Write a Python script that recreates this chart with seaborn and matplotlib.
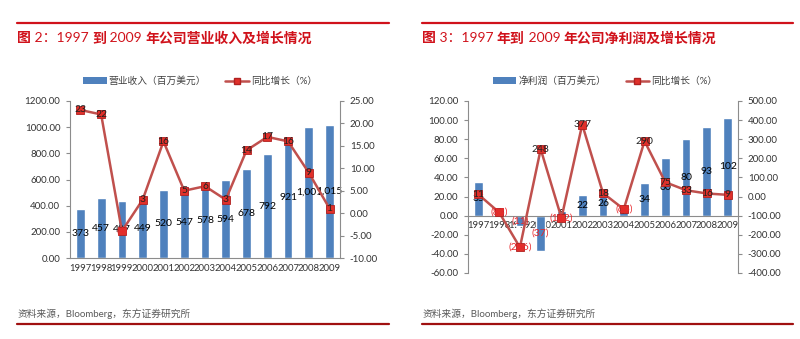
import numpy as np
import pandas as pd
import matplotlib
matplotlib.use("Agg")
import matplotlib.pyplot as plt
import seaborn as sns
from matplotlib.lines import Line2D
from matplotlib.patches import Patch

# ---------------- data ----------------
years = ['1997', '1998', '1999', '2000', '2001', '2002', '2003',
         '2004', '2005', '2006', '2007', '2008', '2009']
revenue = [373, 457, 437, 449, 520, 547, 578, 594, 678, 792, 921, 1001, 1015]
revenue_growth = [23, 22, -4, 3, 16, 5, 6, 3, 14, 17, 16, 9, 1]
profit = [35, 6.4, -10.6, -36.9, 4.6, 21.9, 25.6, 8.7, 34, 60, 80, 93, 102]
profit_growth = [11, -83, -266, 248, -112, 377, 18, -66, 290, 75, 33, 16, 9]

title1_parts = [("图", True), (" 2：1997 ", False), ("到", True), (" 2009 ", False),
                ("年公司营业收入及增长情况", True)]
title2_parts = [("图", True), (" 3：1997 ", False), ("年到", True), (" 2009 ", False),
                ("年公司净利润及增长情况", True)]
legend_bar1 = "营业收入（百万美元）"
legend_bar2 = "净利润（百万美元）"
legend_line = "同比增长（%）"
source = "资料来源，Bloomberg，东方证券研究所"

left_ticks1 = [0, 200, 400, 600, 800, 1000, 1200]
right_ticks1 = [-10, -5, 0, 5, 10, 15, 20, 25]
left_ticks2 = [-60, -40, -20, 0, 20, 40, 60, 80, 100, 120]
right_ticks2 = [-400, -300, -200, -100, 0, 100, 200, 300, 400, 500]

# ---------------- style ----------------
sns.set_style("white")
plt.rcParams['font.family'] = ['Lato', 'Noto Sans CJK SC', 'DejaVu Sans']

BLUE = '#4F81BD'
LINE = '#C0504D'
MARK = '#E0302A'
TITLE_RED = '#D0121B'
AXIS = '#8C8C8C'
TXT = '#333333'
NEG = '#E8262A'


def fmt(v):
    s = f"{abs(v):,.0f}"
    return (f"({s})", NEG) if round(v) < 0 else (s, 'black')


fig = plt.figure(figsize=(8, 3.39), dpi=100)


def draw(rect, values, growth, lticks, rticks, zero_axis):
    ax = fig.add_axes(rect)
    df = pd.DataFrame({'year': years, 'value': values})
    sns.barplot(data=df, x='year', y='value', color=BLUE, width=0.42,
                saturation=1, ax=ax, zorder=2)
    if zero_axis:
        ax.spines['bottom'].set_position(('data', 0))
    ax.set_ylim(lticks[0], lticks[-1])
    ax.set_yticks(lticks)
    ax.set_yticklabels([f"{t:.2f}" for t in lticks], fontsize=7, color=TXT)
    ax.set_xlim(-0.5, len(years) - 0.5)
    ax.set_xlabel('')
    ax.set_ylabel('')
    ax.tick_params(axis='y', direction='out', length=3, width=0.8, color=AXIS, pad=4, left=True)
    ax.set_xticks(range(len(years)))
    ax.set_xticklabels(years, fontsize=6.8, color=TXT)
    ax.tick_params(axis='x', length=0, pad=4)
    ax.set_xticks(np.arange(-0.5, len(years)), minor=True)
    ax.tick_params(axis='x', which='minor', length=3, color=AXIS, direction='out')
    for s in ['top', 'right']:
        ax.spines[s].set_visible(False)
    for s in ['left', 'bottom']:
        ax.spines[s].set_color(AXIS)
        ax.spines[s].set_linewidth(0.8)
    cont = ax.containers[0]
    labs = [fmt(v) for v in values]
    texts = ax.bar_label(cont, labels=[l[0] for l in labs], label_type='center',
                         fontsize=7.5, zorder=3)
    for t, (_, c) in zip(texts, labs):
        t.set_color(c)

    ax2 = ax.twinx()
    sns.lineplot(x=np.arange(len(years)), y=growth, ax=ax2, color=LINE, lw=1.8,
                 marker='s', markersize=6, markerfacecolor=MARK,
                 markeredgecolor='#B02020', markeredgewidth=0.6)
    ax2.set_ylim(rticks[0], rticks[-1])
    ax2.set_yticks(rticks)
    ax2.set_yticklabels([f"{t:.2f}" for t in rticks], fontsize=7, color=TXT)
    ax2.tick_params(axis='y', direction='out', length=3, width=0.8, color=AXIS, pad=4, right=True)
    for s in ['top', 'left', 'bottom']:
        ax2.spines[s].set_visible(False)
    ax2.spines['right'].set_color(AXIS)
    ax2.spines['right'].set_linewidth(0.8)
    ax2.set_ylabel('')
    for i, g in enumerate(growth):
        s, c = fmt(g)
        ax2.text(i, g, s, ha='center', va='center', fontsize=7.5,
                 color=c if c != 'black' else '#222222', zorder=5)

    handles = [Patch(facecolor=BLUE, edgecolor='none'),
               Line2D([], [], color=LINE, lw=1.8, marker='s', markersize=5,
                      markerfacecolor=MARK, markeredgecolor='#B02020')]
    return ax, ax2, handles


ax1, ax1b, h1 = draw([70/800, 1-258/339, 270/800, 157/339], revenue, revenue_growth,
                     left_ticks1, right_ticks1, False)
fig.legend(h1, [legend_bar1, legend_line], loc='center', bbox_to_anchor=(200/800, 1-81/339),
           ncol=2, frameon=False, fontsize=7, handlelength=2.4, handleheight=0.6,
           columnspacing=2.0, handletextpad=0.2, labelcolor='#404040')

ax2, ax2b, h2 = draw([468/800, 1-273/339, 270/800, 172/339], profit, profit_growth,
                     left_ticks2, right_ticks2, True)
fig.legend(h2, [legend_bar2, legend_line], loc='center', bbox_to_anchor=(605/800, 1-81/339),
           ncol=2, frameon=False, fontsize=7, handlelength=2.4, handleheight=0.6,
           columnspacing=2.0, handletextpad=0.2, labelcolor='#404040')

renderer = fig.canvas.get_renderer()
for x0, x1, parts in [(17, 389, title1_parts), (422, 793, title2_parts)]:
    fig.add_artist(Line2D([x0/800, x1/800], [1-23/339]*2, color=TITLE_RED, lw=1.6))
    xpos = x0 / 800
    for txt, bold in parts:
        t = fig.text(xpos, 1-38/339, txt, fontsize=10, color=TITLE_RED,
                     fontweight='bold' if bold else 'normal', ha='left', va='center')
        bb = t.get_window_extent(renderer=renderer)
        xpos += bb.width / 800
    fig.text((x0+1)/800, 1-314/339, source, fontsize=7, color='#595959', ha='left', va='center')
    fig.add_artist(Line2D([x0/800, x1/800], [1-324/339]*2, color='#A01010', lw=1.6))

fig.savefig('out.png', dpi=100, facecolor='white')
